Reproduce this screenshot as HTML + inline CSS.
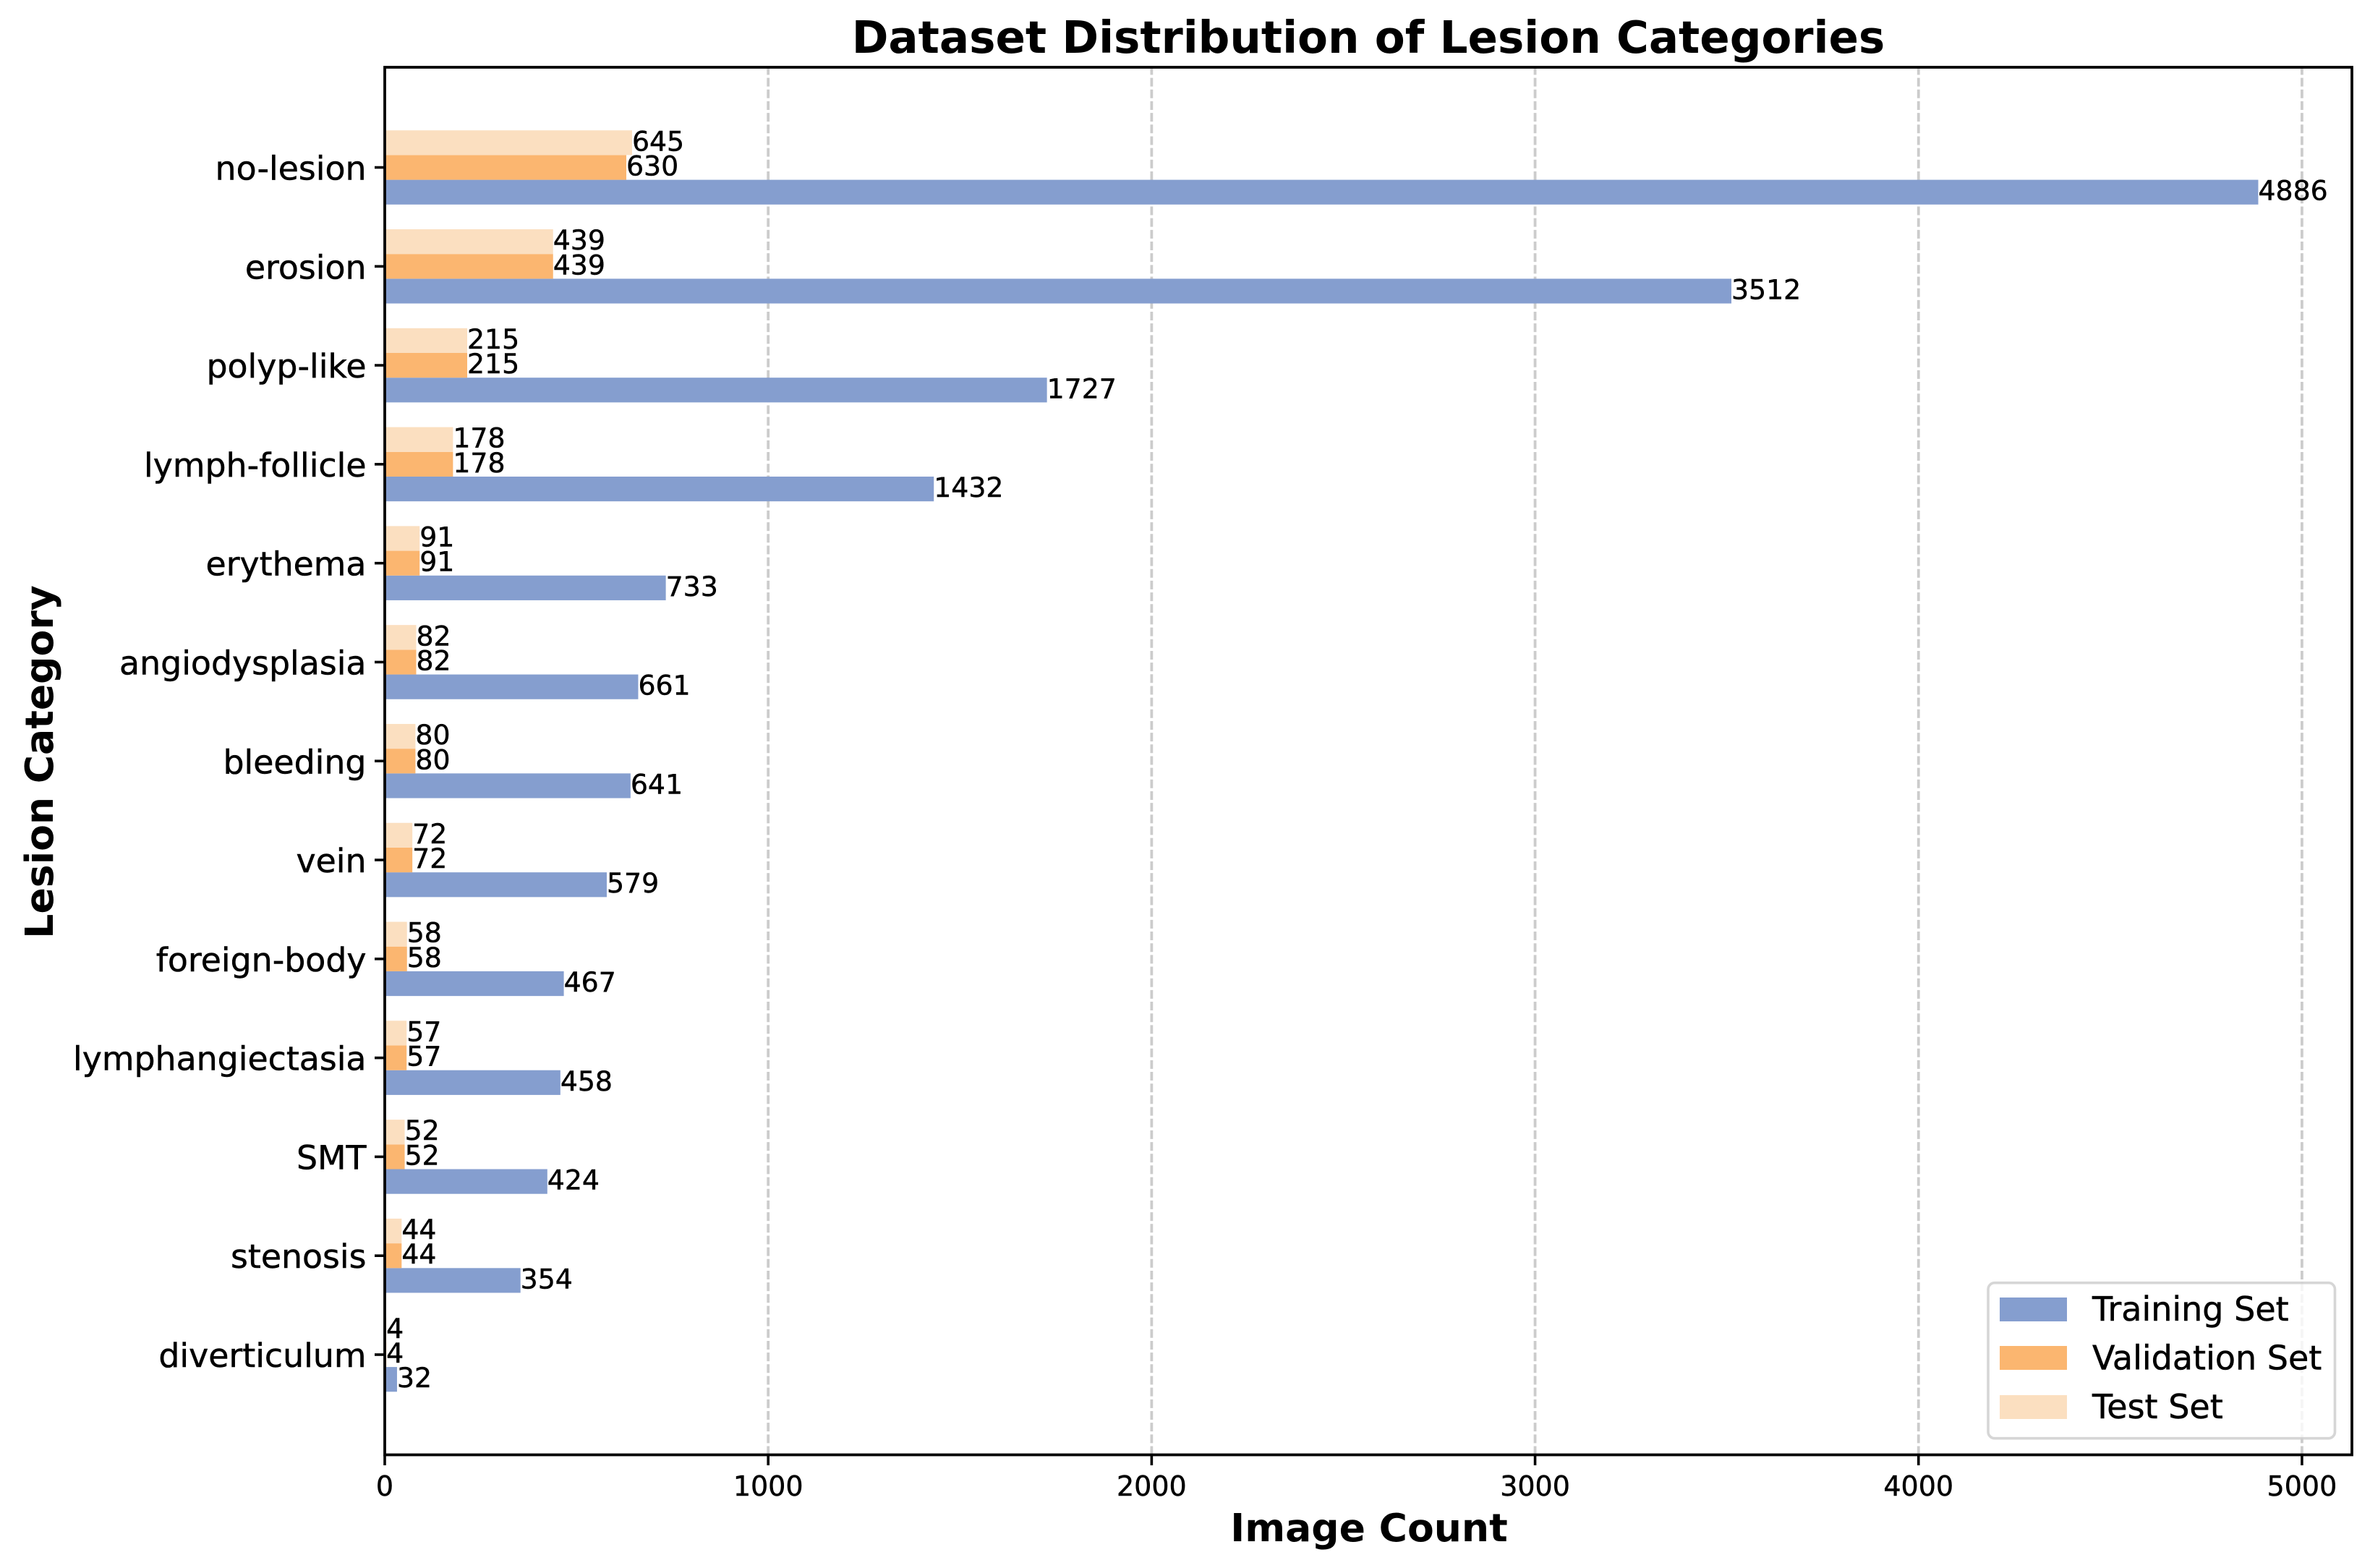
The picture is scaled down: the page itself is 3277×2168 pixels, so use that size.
<!DOCTYPE html>
<html lang="en">
<head>
<meta charset="utf-8">
<title>Dataset Distribution of Lesion Categories</title>
<style>
html,body{margin:0;padding:0;background:#fff;}
svg{display:block;}
text{font-family:"DejaVu Sans","Liberation Sans",sans-serif;fill:#000;}
.bold{font-weight:700;}
.heavy{stroke:#000;stroke-width:0.5px;}
</style>
</head>
<body>
<svg id="chart" xmlns="http://www.w3.org/2000/svg" width="3277" height="2168" viewBox="0 0 3277 2168">
  <rect x="0" y="0" width="3277" height="2168" fill="#ffffff"/>
  <g id="grid-layer"></g>
  <g id="bars-layer"></g>
  <g id="ticks-layer"></g>
  <g id="labels-layer"></g>
  <g id="legend">
    <rect x="2749" y="1773.7" width="479.5" height="215" rx="9" ry="9" fill="#ffffff" fill-opacity="0.8" stroke="#cccccc" stroke-opacity="0.8" stroke-width="3.6"/>
    <g>
      <rect x="2765" y="1794" width="93" height="33" fill="#859ECF"/>
      <text class="heavy" x="2893" y="1826" font-size="46">Training Set</text>
    </g>
    <g>
      <rect x="2765" y="1861" width="93" height="33" fill="#FBB670"/>
      <text class="heavy" x="2893" y="1893.5" font-size="46">Validation Set</text>
    </g>
    <g>
      <rect x="2765" y="1929" width="93" height="33" fill="#FBDFC0"/>
      <text class="heavy" x="2893" y="1961" font-size="46">Test Set</text>
    </g>
  </g>
  <rect x="532" y="93" width="2720" height="1918.5" fill="none" stroke="#000" stroke-width="3.8"/>
  <text class="bold" x="1892" y="73" font-size="61.1" text-anchor="middle">Dataset Distribution of Lesion Categories</text>
  <text class="bold" x="1893" y="2131" font-size="53.6" text-anchor="middle">Image Count</text>
  <text class="bold" transform="translate(73,1053.5) rotate(-90)" font-size="53.6" text-anchor="middle">Lesion Category</text>
</svg>
<script>
const categories = ["no-lesion","erosion","polyp-like","lymph-follicle","erythema","angiodysplasia","bleeding","vein","foreign-body","lymphangiectasia","SMT","stenosis","diverticulum"];
const trainingValues = [4886,3512,1727,1432,733,661,641,579,467,458,424,354,32];
const validationValues = [630,439,215,178,91,82,80,72,58,57,52,44,4];
const testValues = [645,439,215,178,91,82,80,72,58,57,52,44,4];
const xTickValues = [0,1000,2000,3000,4000,5000];

const NS = 'http://www.w3.org/2000/svg';
const plotLeft = 532, plotRight = 3252, plotTop = 93, plotBottom = 2011.5;
const barHeight = 0.25;
const maxValue = Math.max(...trainingValues, ...validationValues, ...testValues);
const xMax = maxValue * 1.05;
const yPad = (categories.length - 1 + 3 * barHeight) * 0.05;
const yMin = -1.5 * barHeight - yPad;
const yMax = categories.length - 1 + 1.5 * barHeight + yPad;

function xScale(v) { return plotLeft + (v / xMax) * (plotRight - plotLeft); }
function yScale(i) { return plotTop + ((i - yMin) / (yMax - yMin)) * (plotBottom - plotTop); }

function make(tag, attrs, parent, text) {
  const el = document.createElementNS(NS, tag);
  for (const k in attrs) el.setAttribute(k, attrs[k]);
  if (text !== undefined) el.textContent = text;
  parent.appendChild(el);
  return el;
}

const gridLayer = document.getElementById('grid-layer');
const barsLayer = document.getElementById('bars-layer');
const ticksLayer = document.getElementById('ticks-layer');
const labelsLayer = document.getElementById('labels-layer');

xTickValues.forEach(function (t) {
  const x = xScale(t);
  if (t > 0) {
    const g = make('line', {x1: x, x2: x, y1: plotBottom, y2: plotTop, stroke: '#cccccc', 'stroke-width': 3.8, 'stroke-dasharray': '12 4.17'}, gridLayer);
    
    
  }
  const tick = make('line', {x1: x, x2: x, y1: plotBottom, y2: plotBottom + 14.5, stroke: '#000', 'stroke-width': 3.6}, ticksLayer);
  
  
  const lab = make('text', {x: x, y: 2068, 'font-size': 38, 'text-anchor': 'middle', class: 'heavy'}, ticksLayer, String(t));
  
  
});

categories.forEach(function (c, i) {
  const y = yScale(i);
  const tick = make('line', {x1: plotLeft, x2: plotLeft - 14, y1: y, y2: y, stroke: '#000', 'stroke-width': 3.6}, ticksLayer);
  
  
  const lab = make('text', {x: 506.5, y: y + 17, 'font-size': 45.8, 'text-anchor': 'end', class: 'heavy'}, ticksLayer, c);
  
  
});

function drawSeries(values, offset, colour, seriesName) {
  values.forEach(function (v, i) {
    const top = yScale(i + offset - barHeight / 2);
    const bottom = yScale(i + offset + barHeight / 2);
    const bar = make('rect', {x: xScale(0), y: top, width: xScale(v) - xScale(0), height: bottom - top, fill: colour}, barsLayer);
    
    
    const lab = make('text', {x: xScale(v), y: (top + bottom) / 2 + 11, 'font-size': 37.8, class: 'heavy'}, labelsLayer, String(v));
    
    
  });
}

drawSeries(trainingValues, barHeight, '#859ECF', 'training');
drawSeries(validationValues, 0, '#FBB670', 'validation');
drawSeries(testValues, -barHeight, '#FBDFC0', 'test');
</script>
</body>
</html>
